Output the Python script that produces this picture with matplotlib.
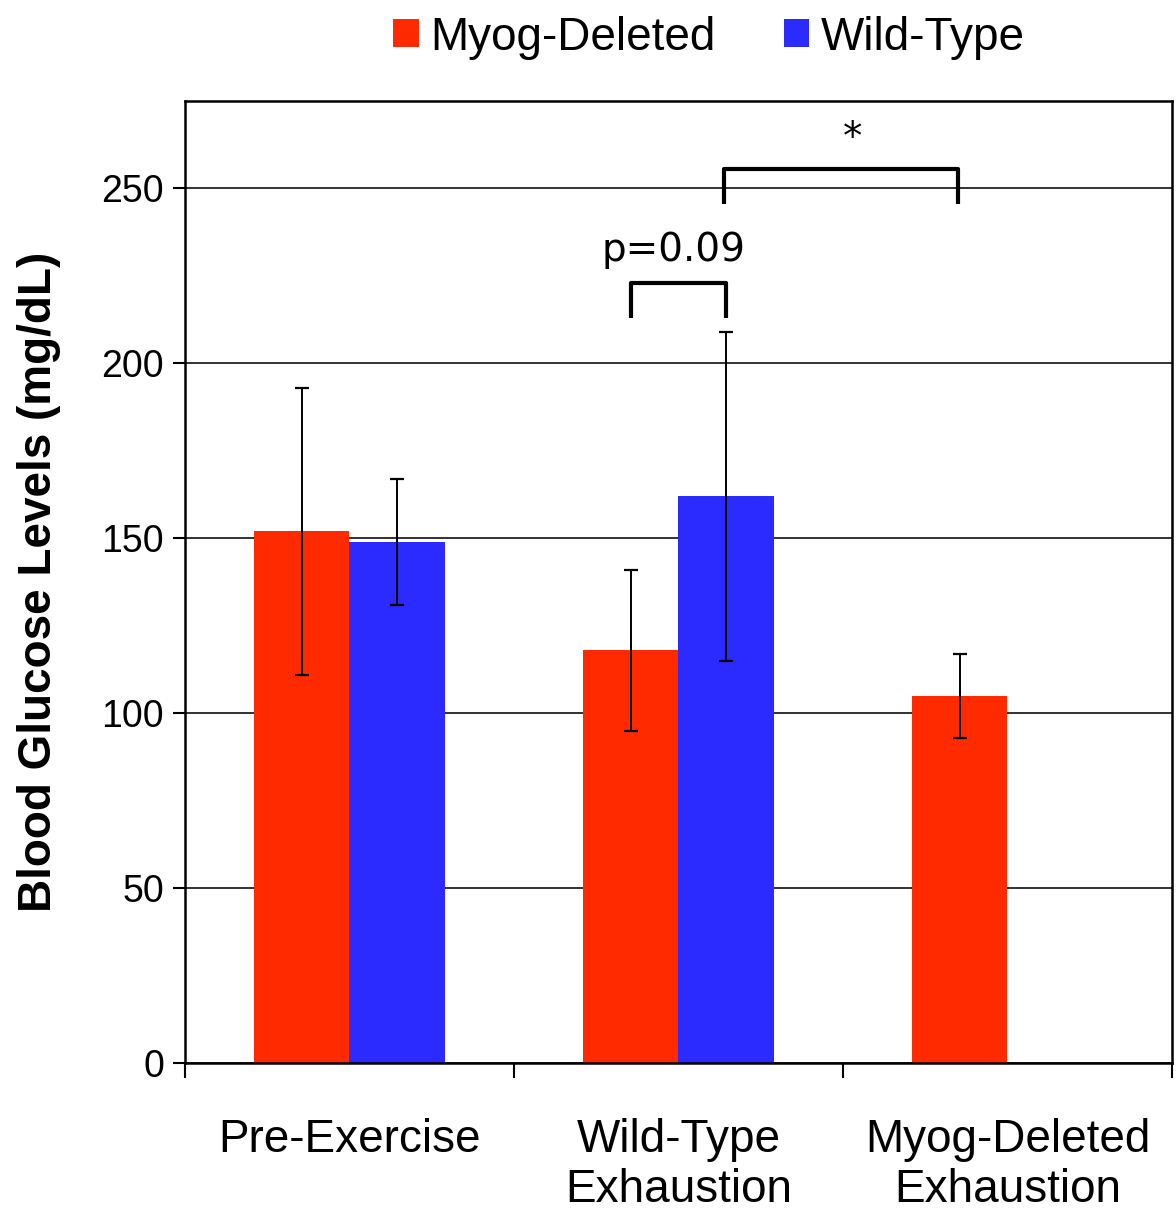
import numpy as np
import matplotlib
matplotlib.use("Agg")
import matplotlib.pyplot as plt
from matplotlib.patches import Patch

# data
categories = ["Pre-Exercise", "Wild-Type\nExhaustion", "Myog-Deleted\nExhaustion"]
myog_mean = [152, 118, 105]
myog_err = [41, 23, 12]
wt_mean = [149, 162, np.nan]
wt_err = [18, 47, np.nan]
series_names = ["Myog-Deleted", "Wild-Type"]
yticks = [0, 50, 100, 150, 200, 250]

red = "#FF2A00"
blue = "#2B2BFF"

plt.rcParams['font.family'] = ['Liberation Sans', 'DejaVu Sans']

fig = plt.figure(figsize=(11.76, 12.26), dpi=100)
ax = fig.add_axes([0.1573, 0.1330, 0.8393, 0.7846])

x = np.arange(len(categories))
w = 0.289

ax.bar(x - w / 2, myog_mean, w, color=red, zorder=2)
ax.bar(x + w / 2, wt_mean, w, color=blue, zorder=2)
ax.errorbar(x - w / 2, myog_mean, yerr=myog_err, fmt='none', ecolor='black',
            elinewidth=1.4, capsize=5, capthick=1.6, zorder=3)
ax.errorbar(x + w / 2, wt_mean, yerr=wt_err, fmt='none', ecolor='black',
            elinewidth=1.4, capsize=5, capthick=1.6, zorder=3)

ax.set_xlim(-0.5, 2.5)
ax.set_ylim(0, 275)
ax.set_yticks(yticks)
ax.yaxis.grid(True, color='#222222', linewidth=1.3, zorder=0)
ax.set_axisbelow(True)

ax.set_xticks(x)
ax.set_xticklabels(categories, fontsize=33, linespacing=1.15)
ax.set_xticks([-0.5, 0.5, 1.5, 2.5], minor=True)
ax.tick_params(axis='x', which='major', length=0, pad=40)
ax.tick_params(axis='x', which='minor', length=11, width=1.5, direction='out')
ax.tick_params(axis='y', labelsize=27, length=9, width=1.5, direction='out', pad=6)

for s in ax.spines.values():
    s.set_linewidth(1.8)

ax.set_ylabel("Blood Glucose Levels (mg/dL)", fontsize=33, fontweight='bold', labelpad=29)


def bracket(x0, x1, y_top, y_leg, label, tx, ty):
    ax.plot([x0, x0, x1, x1], [y_leg, y_top, y_top, y_leg], color='black',
            linewidth=3, solid_joinstyle='round', solid_capstyle='butt',
            clip_on=False, zorder=4)
    ax.text(tx, ty, label, ha='center', va='bottom', fontsize=28,
            family='DejaVu Sans')


bracket(1 - w / 2, 1 + w / 2, 223, 213, "p=0.09", 0.985, 227)
bracket(1 + w / 2 - 0.005, 2 - w / 2 - 0.005, 255.7, 245.7, "*", 1.53, 259)

handles = [Patch(facecolor=red), Patch(facecolor=blue)]
fig.legend(handles, series_names, loc='upper center', bbox_to_anchor=(0.603, 1.021),
           ncol=2, frameon=False, fontsize=33, handlelength=0.55, handleheight=0.55,
           handletextpad=0.25, columnspacing=1.5)

fig.savefig("out.png", dpi=100)
